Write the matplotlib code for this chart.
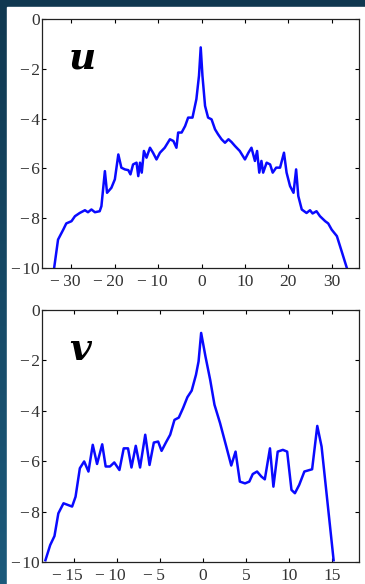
import numpy as np
import matplotlib
matplotlib.use('Agg')
import matplotlib.pyplot as plt
from matplotlib.patches import Rectangle
from matplotlib.transforms import ScaledTranslation

# u profile (log scale amplitude vs wavenumber)
u_x = [-34.0, -33.1, -31.9, -31.2, -30.0, -29.2, -28.1, -26.9, -26.2, -25.4,
       -24.6, -23.5, -23.1, -22.3, -21.8, -20.8, -20.0, -19.2, -18.5, -17.7,
       -16.9, -16.4, -15.8, -15.0, -14.6, -14.2, -13.8, -13.3, -12.7, -11.9,
       -11.2, -10.4, -9.6, -8.5, -7.3, -6.5, -5.8, -5.4, -4.6, -3.8,
       -3.1, -2.1, -1.2, -0.6, -0.2,
       0.2, 0.8, 1.5, 2.3, 3.1, 3.8, 4.6, 5.4, 6.2, 6.9,
       7.7, 8.8, 10.0, 10.8, 11.5, 12.3, 12.8, 13.3, 13.8, 14.2,
       15.0, 15.8, 16.4, 17.2, 18.1, 19.0, 19.6, 20.4, 21.2, 21.8,
       22.3, 23.1, 24.2, 25.0, 25.6, 26.5, 27.3, 28.5, 29.2, 30.0,
       31.2, 32.3, 33.5]
u_y = [-10.0, -8.86, -8.46, -8.21, -8.12, -7.92, -7.79, -7.68, -7.76, -7.65,
       -7.76, -7.72, -7.52, -6.11, -6.98, -6.78, -6.44, -5.44, -5.97, -6.04,
       -6.07, -6.24, -5.84, -5.77, -6.31, -5.77, -6.17, -5.30, -5.57, -5.17,
       -5.37, -5.64, -5.37, -5.17, -4.83, -4.90, -5.17, -4.56, -4.56, -4.30,
       -3.96, -3.96, -3.22, -2.28, -1.14,
       -2.28, -3.49, -3.96, -4.03, -4.43, -4.63, -4.83, -4.97, -4.83, -4.94,
       -5.10, -5.30, -5.64, -5.37, -5.17, -5.70, -5.30, -6.17, -5.70, -6.17,
       -5.77, -5.84, -6.17, -5.97, -5.97, -5.37, -6.17, -6.71, -6.98, -6.04,
       -7.11, -7.65, -7.79, -7.68, -7.81, -7.72, -7.92, -8.12, -8.21, -8.46,
       -8.72, -9.33, -10.0]

# v profile
v_x = [-18.3, -17.75, -17.25, -16.8, -16.2, -15.2, -14.8, -14.3, -13.8, -13.3,
       -12.8, -12.3, -11.7, -11.3, -10.8, -10.3, -9.7, -9.2, -8.7, -8.3,
       -7.8, -7.3, -6.7, -6.2, -5.7, -5.2, -4.8, -4.3, -3.8, -3.3,
       -2.8, -2.3, -1.8, -1.3, -0.8, -0.5, -0.2, 0.3, 0.85, 1.35,
       2.0, 2.7, 3.3, 3.8, 4.3, 4.9, 5.4, 5.8, 6.3, 6.8,
       7.2, 7.8, 8.2, 8.7, 9.3, 9.8, 10.3, 10.7, 11.2, 11.8,
       12.7, 13.3, 13.8, 15.2]
v_y = [-9.93, -9.33, -8.97, -8.07, -7.67, -7.80, -7.41, -6.28, -6.01, -6.41,
       -5.35, -6.11, -5.33, -6.21, -6.21, -6.05, -6.35, -5.49, -5.49, -6.25,
       -5.39, -6.25, -4.95, -6.15, -5.26, -5.22, -5.59, -5.26, -4.95, -4.36,
       -4.27, -3.89, -3.46, -3.20, -2.57, -2.04, -0.91, -1.84, -2.77, -3.76,
       -4.49, -5.39, -6.17, -5.62, -6.81, -6.88, -6.81, -6.51, -6.41, -6.61,
       -6.72, -5.49, -7.01, -5.62, -5.55, -5.62, -7.14, -7.27, -6.94, -6.41,
       -6.32, -4.60, -5.42, -9.93]

u_ticks = [-30, -20, -10, 0, 10, 20, 30]
v_ticks = [-15, -10, -5, 0, 5, 10, 15]
y_ticks = [0, -2, -4, -6, -8, -10]

W, H = 365, 584
fig = plt.figure(figsize=(W / 100, H / 100), dpi=100)

# dark slide background (darker at the top) with a white panel
bg = fig.add_axes([0, 0, 1, 1], zorder=-10)
grad = np.linspace(0, 1, 256).reshape(-1, 1)
cmap = matplotlib.colors.LinearSegmentedColormap.from_list('bg', ['#1c5a7b', '#103850'])
bg.imshow(grad, aspect='auto', cmap=cmap, origin='lower', extent=[0, 1, 0, 1])
bg.add_patch(Rectangle((7 / W, 0), 1, 1 - 7 / H, color='white'))
bg.set_xlim(0, 1)
bg.set_ylim(0, 1)
bg.axis('off')

serif = ['Liberation Serif', 'DejaVu Serif']
lab_color = '#333333'


def label(v, gap):
    if v < 0:
        return '\u2212' + gap + str(-v)
    return str(v)


def setup(ax, xs, ys, ticks, xlim, name):
    ax.plot(xs, ys, color='#0a0aff', linewidth=1.8)
    ax.set_xlim(*xlim)
    ax.set_ylim(-10, 0)
    ax.tick_params(direction='in', length=3, width=0.8, top=True, right=True,
                   labelsize=12.5, labelcolor=lab_color)
    ax.tick_params(axis='x', pad=4.5)
    ax.tick_params(axis='y', pad=1.5)
    ax.set_xticks(ticks, [label(t, '\u2009') for t in ticks])
    ax.set_yticks(y_ticks, [label(t, '\u200a') for t in y_ticks])
    for lab in ax.get_xticklabels() + ax.get_yticklabels():
        lab.set_fontfamily(serif)
    for lab in ax.get_xticklabels():
        if lab.get_text().startswith('\u2212'):
            lab.set_transform(lab.get_transform() +
                              ScaledTranslation(-4.5 / 72, 0, fig.dpi_scale_trans))
    for s in ax.spines.values():
        s.set_linewidth(0.9)
        s.set_color('#222222')
    ax.text(0.085, 0.80, name, transform=ax.transAxes, fontsize=27,
            fontstyle='italic', fontweight='bold', family=['DejaVu Serif'],
            color='black')


ax1 = fig.add_axes([42 / W, 1 - 268 / H, 317 / W, 249 / H])
setup(ax1, u_x, u_y, u_ticks, (-36.8, 36.3), 'u')

ax2 = fig.add_axes([42 / W, 1 - 562 / H, 317 / W, 252 / H])
setup(ax2, v_x, v_y, v_ticks, (-18.7, 18.15), 'v')

fig.savefig('out.png', dpi=100)
